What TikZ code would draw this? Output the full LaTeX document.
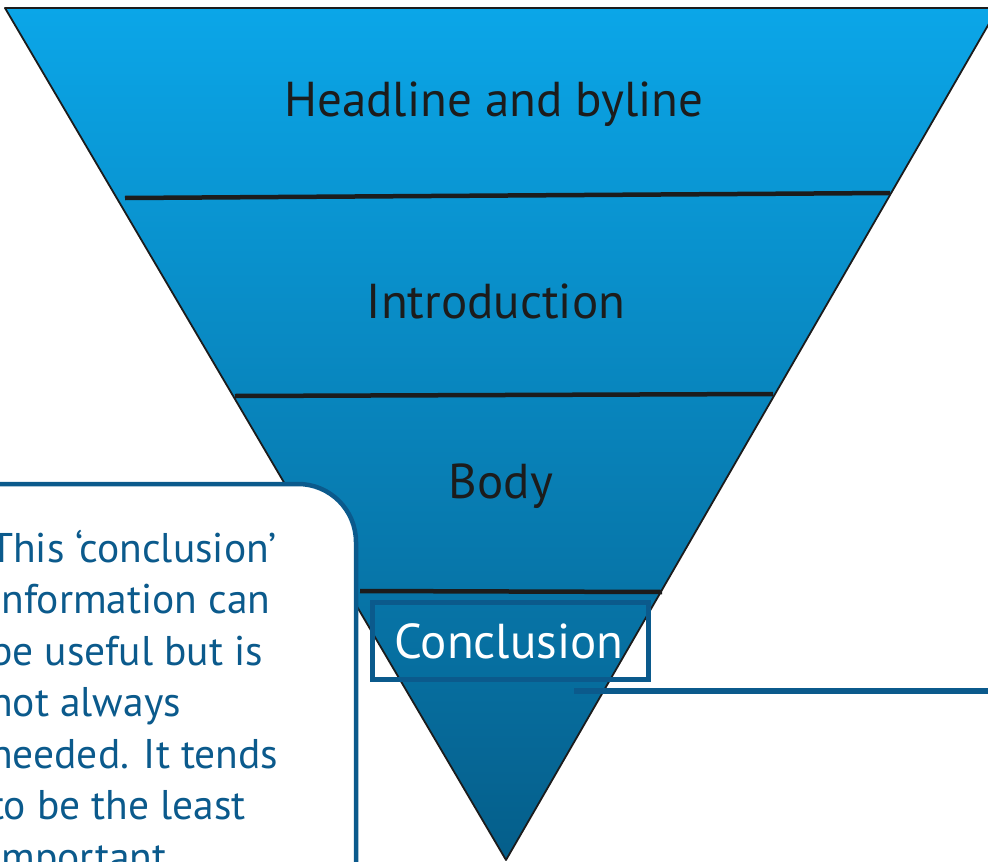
\documentclass[tikz,border=0pt]{standalone}
\usepackage{fontspec}
\setmainfont{PT Sans}
\definecolor{topblue}{HTML}{0BA6E8}
\definecolor{botblue}{HTML}{055E8A}
\definecolor{darkblue}{HTML}{0B5A8C}
\definecolor{inkblack}{HTML}{1C1C1C}
\tikzset{
  tierline/.style={draw=inkblack, line width=4.5pt},
  tiertext/.style={anchor=base, text=inkblack, font=\fontsize{49}{55}\selectfont, inner sep=0pt},
  calloutbox/.style={draw=darkblue, fill=white, line width=4.5pt, rounded corners=58pt},
  callouttext/.style={anchor=base west, text=darkblue, font=\fontsize{41.5}{51}\selectfont, inner sep=0pt},
  conclbox/.style={draw=darkblue, line width=5pt},
  conclline/.style={draw=darkblue, line width=6pt}
}
\begin{document}
\begin{tikzpicture}[x=1pt,y=-1pt]
\useasboundingbox (0,0) rectangle (988,862);
\clip (0,0) rectangle (988,862);
% funnel
\coordinate (tl) at (5,8);
\coordinate (tr) at (998,8);
\coordinate (apex) at (506,860);
\shade[top color=topblue, bottom color=botblue] (tl) -- (tr) -- (apex) -- cycle;
\draw[inkblack, line width=1.8pt, line join=round] (tl) -- (tr) -- (apex) -- cycle;
% tier separators
\coordinate (l1a) at (125,198); \coordinate (l1b) at (890,193);
\coordinate (l2a) at (235,396); \coordinate (l2b) at (773,394);
\coordinate (l3a) at (360,591); \coordinate (l3b) at (662,592);
\draw[tierline] (l1a) -- (l1b);
\draw[tierline] (l2a) -- (l2b);
\draw[tierline] (l3a) -- (l3b);
% tier labels
\node[tiertext] (head) at (494,116) {Headline and byline};
\node[tiertext] (intro) at (496,318) {Introduction};
\node[tiertext] (body) at (501,498) {Body};
% conclusion box
\node[conclbox, minimum width=276pt, minimum height=77pt, inner sep=0pt] (concl) at (510,641) {};
\node[anchor=base, text=white, font=\fontsize{49}{55}\selectfont, inner sep=0pt] (concltext) at (509,658) {Conclusion};
\coordinate (lineend) at (990,691);
\coordinate (linestart) at (574,691);
\draw[conclline] (linestart) -- (lineend);
% callout
\draw[calloutbox] (-60,484) rectangle (356,960);
\node[callouttext] (c1) at (-10,562) {This ‘conclusion’};
\node[callouttext] (c2) at (-10,613.5) {information can};
\node[callouttext] (c3) at (-10,665) {be useful but is};
\node[callouttext] (c4) at (-10,716.5) {not always};
\node[callouttext] (c5) at (-10,768) {needed. It tends};
\node[callouttext] (c6) at (-10,819.5) {to be the least};
\node[callouttext] (c7) at (-10,871) {important};
\end{tikzpicture}
\end{document}
